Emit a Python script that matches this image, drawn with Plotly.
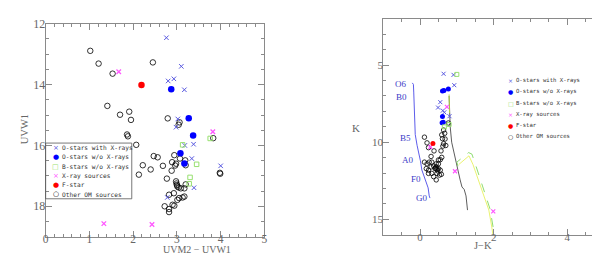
import plotly.graph_objects as go

# ---------------- Left panel data (UVM2-UVW1 vs UVW1) ----------------
om_x = [1.02, 1.21, 1.53, 2.45, 1.41, 1.70, 1.91, 1.95, 2.79, 3.06, 3.04, 1.86, 1.88, 2.07,
        2.47, 2.56, 2.22, 2.13, 2.40, 2.68, 2.88, 2.77, 2.94, 2.89, 2.98, 2.96, 3.07, 3.19,
        3.20, 2.98, 3.00, 3.01, 3.04, 2.99, 3.09, 3.17, 3.20, 2.93, 2.82, 3.01, 3.05, 3.13,
        3.17, 2.90, 2.94, 2.72, 2.82, 2.82, 3.83, 3.98, 3.99]
om_y = [12.89, 13.31, 13.64, 13.27, 14.70, 14.99, 14.89, 15.16, 15.11, 15.24, 15.32, 15.64,
        15.70, 15.98, 16.35, 16.39, 16.65, 16.96, 16.79, 16.67, 16.83, 17.09, 16.32, 16.55,
        16.60, 16.66, 16.43, 16.49, 16.65, 17.18, 17.30, 17.35, 17.38, 17.25, 17.41, 17.41,
        17.28, 17.57, 17.62, 17.79, 17.73, 17.71, 17.68, 17.95, 17.98, 18.00, 18.09, 18.19,
        15.76, 16.90, 16.93]

ox_x = [2.76, 3.10, 2.80, 2.93, 3.17, 3.02, 2.98, 3.18, 3.38, 3.34, 4.00, 3.39, 2.78]
ox_y = [12.46, 13.40, 13.88, 13.81, 14.17, 15.13, 15.40, 16.00, 15.96, 16.43, 16.67, 17.39, 17.71]

onx_x = [2.87, 3.27, 3.37, 3.08, 3.17]
onx_y = [14.15, 15.11, 15.67, 16.26, 16.59]

b_x = [3.13, 3.76, 3.45, 3.30, 3.28]
b_y = [15.98, 15.77, 16.62, 17.05, 17.26]

xr_x = [1.67, 3.82, 1.33, 2.43]
xr_y = [13.58, 15.55, 18.57, 18.60]

f_x = [2.19]
f_y = [14.01]

# ---------------- Right panel data (J-K vs K) ----------------
r_om_x = [0.12, 0.19, 0.23, 0.77, 0.64, 0.67, 0.59, 0.61, 0.68, 0.64, 0.70, 0.62, 0.57, 0.38,
          0.59, 0.55, 0.50, 0.30, 0.19, 0.12, 0.25, 0.30, 0.37, 0.44, 0.41, 0.50, 0.48, 0.55,
          0.46, 0.53, 0.32, 0.23, 0.37, 0.44, 0.58, 0.44, 0.50, 0.32, 0.17, 0.23, 0.46, 0.42]
r_om_y = [9.67, 10.04, 10.35, 8.75, 9.21, 9.42, 9.52, 9.77, 9.79, 10.10, 10.21, 10.25, 10.56,
          10.56, 10.98, 11.13, 11.15, 10.92, 11.40, 11.29, 11.29, 11.60, 11.54, 11.60, 11.71,
          11.71, 11.85, 11.81, 12.02, 12.13, 12.02, 11.81, 12.23, 12.44, 12.08, 11.40, 11.40,
          11.29, 11.71, 12.02, 11.75, 11.68]

r_ox_x = [0.64, 0.91, 0.93, 0.55, 0.49, 0.66, 0.80, 0.62]
r_ox_y = [5.56, 5.63, 6.30, 7.40, 7.75, 8.06, 8.31, 7.95]

r_onx_x = [0.65, 0.77, 0.61, 0.61, 0.60, 0.63]
r_onx_y = [6.65, 6.54, 6.67, 8.33, 8.73, 8.70]

r_b_x = [1.00, 0.66, 0.79]
r_b_y = [5.60, 9.00, 8.85]

r_xr_x = [0.73, 0.95, 1.99, 0.28]
r_xr_y = [7.71, 11.88, 14.48, 10.31]

r_f_x = [0.35]
r_f_y = [10.08]

zams_x = [-0.21, -0.18, -0.17, -0.15, -0.13, -0.08, -0.04, 0.01, 0.05, 0.14, 0.22, 0.25, 0.27]
zams_y = [6.15, 6.25, 6.8, 8.06, 9.5, 10.2, 10.6, 11.2, 11.8, 12.44, 12.96, 13.48, 13.62]

pms_x = [0.79, 0.80, 0.82, 0.86, 0.91, 1.00, 1.09, 1.14, 1.20, 1.25, 1.29]
pms_y = [7.0, 7.9, 9.0, 10.0, 10.56, 11.4, 12.44, 12.9, 13.06, 13.48, 14.4]

pmsg_x = [0.79, 0.80]
pmsg_y = [6.9, 8.1]

red_x = [1.03, 1.00, 1.32, 1.41, 1.50, 1.72, 1.90, 1.99, 2.02]
red_y = [11.55, 11.29, 10.67, 10.77, 11.40, 13.06, 14.31, 15.56, 16.0]

redy_x = [1.05, 1.33, 1.44, 1.70, 1.87, 1.95, 1.98]
redy_y = [11.45, 10.88, 11.45, 13.15, 14.40, 15.50, 16.0]

spt_labels = ["O6", "B0", "B5", "A0", "F0", "G0"]
spt_x = [-0.30, -0.30, -0.19, -0.10, 0.08, 0.26]
spt_y = [6.25, 7.06, 9.73, 11.12, 12.39, 13.64]

legend_labels = ["O-stars with X-rays", "O-stars w/o X-rays", "B-stars w/o X-rays",
                 "X-ray sources", "F-star", "Other OM sources"]

# ---------------- styles ----------------
C_OX = "#5858e0"
C_ONX = "#0000ff"
C_B = "#98e070"
C_XR = "#ff55ff"
C_F = "#ff0000"
C_OM = "#000000"
AXC = "#8a8a8a"
TXT = "#666666"
SERIF = "Liberation Serif"
MONO = "DejaVu Sans Mono"

fig = go.Figure()

def pts(x, y, sym, color, size, xa, ya, lw=1):
    fig.add_trace(go.Scatter(x=x, y=y, mode="markers", xaxis=xa, yaxis=ya, showlegend=False,
                             marker=dict(symbol=sym, color=color, size=size,
                                         line=dict(color=color, width=lw))))

# left panel
pts(om_x, om_y, "circle-open", C_OM, 5.5, "x", "y", 0.8)
pts(ox_x, ox_y, "x-thin-open", C_OX, 4.5, "x", "y", 1)
pts(onx_x, onx_y, "circle", C_ONX, 6.5, "x", "y", 0)
pts(b_x, b_y, "square-open", C_B, 4.5, "x", "y", 1)
pts(xr_x, xr_y, "x-thin-open", C_XR, 4.5, "x", "y", 1.3)
pts(f_x, f_y, "circle", C_F, 6.5, "x", "y", 0)

# right panel lines
def line(x, y, color, dash="solid", w=1):
    fig.add_trace(go.Scatter(x=x, y=y, mode="lines", xaxis="x2", yaxis="y2", showlegend=False,
                             line=dict(color=color, dash=dash, width=w)))

line(zams_x, zams_y, "#4a4ae8", w=0.9)
line(pms_x, pms_y, "#333333", w=0.8)
line(pmsg_x, pmsg_y, "#b8e040", w=0.9)
line(redy_x, redy_y, "#e8f060", w=0.9)
line(red_x, red_y, "#80d860", dash="dash", w=0.9)

pts(r_om_x, r_om_y, "circle-open", C_OM, 4.5, "x2", "y2", 0.8)
pts(r_ox_x, r_ox_y, "x-thin-open", C_OX, 4, "x2", "y2", 1)
pts(r_onx_x, r_onx_y, "circle", C_ONX, 5, "x2", "y2", 0)
pts(r_b_x, r_b_y, "square-open", C_B, 4, "x2", "y2", 1)
pts(r_xr_x, r_xr_y, "x-thin-open", C_XR, 4, "x2", "y2", 1.2)
pts(r_f_x, r_f_y, "circle", C_F, 5, "x2", "y2", 0)

annotations = []
for lab, sx, sy in zip(spt_labels, spt_x, spt_y):
    annotations.append(dict(x=sx, y=sy, xref="x2", yref="y2", text=lab, showarrow=False,
                            xanchor="right", yanchor="middle",
                            font=dict(family=SERIF, size=9, color="#3c3cc8")))

# axis title annotations
annotations += [
    dict(x=152 / 600, y=1 - 249 / 254, xref="paper", yref="paper", text="UVM2 \u2212 UVW1",
         showarrow=False, font=dict(family=SERIF, size=10, color=TXT)),
    dict(x=6 / 600, y=1 - 117 / 254, xref="paper", yref="paper", text="UVW1", textangle=-90,
         showarrow=False, font=dict(family=SERIF, size=10.5, color=TXT)),
    dict(x=488 / 600, y=1 - 245 / 254, xref="paper", yref="paper", text="J\u2212K",
         showarrow=False, font=dict(family=SERIF, size=10.5, color=TXT)),
    dict(x=348 / 600, y=1 - 116 / 254, xref="paper", yref="paper", text="K",
         showarrow=False, font=dict(family=SERIF, size=11, color=TXT)),
]

# legends (drawn as text)
leg_syms = ["\u00d7", "\u25cf", "\u25a1", "\u00d7", "\u25cf", "\u25cb"]
leg_cols = [C_OX, C_ONX, C_B, C_XR, C_F, C_OM]
left_rows = [136.7, 146.2, 155.8, 165.3, 174.8, 184.3]
right_rows = [67.7, 79.1, 90.6, 102.0, 113.4, 124.9]
for lab, s, c, ly, ry in zip(legend_labels, leg_syms, leg_cols, left_rows, right_rows):
    annotations.append(dict(x=45 / 600, y=1 - ly / 254, xref="paper", yref="paper", text=s,
                            showarrow=False, xanchor="center", yanchor="middle",
                            font=dict(family="DejaVu Sans", size=7, color=c)))
    annotations.append(dict(x=49.5 / 600, y=1 - ly / 254, xref="paper", yref="paper", text=lab,
                            showarrow=False, xanchor="left", yanchor="middle",
                            font=dict(family=MONO, size=6.2, color="#333333")))
    annotations.append(dict(x=505 / 600, y=1 - ry / 254, xref="paper", yref="paper", text=s,
                            showarrow=False, xanchor="center", yanchor="middle",
                            font=dict(family="DejaVu Sans", size=6, color=c)))
    annotations.append(dict(x=508.5 / 600, y=1 - ry / 254, xref="paper", yref="paper", text=lab,
                            showarrow=False, xanchor="left", yanchor="middle",
                            font=dict(family=MONO, size=5.6, color="#333333")))

shapes = [dict(type="rect", xref="paper", yref="paper", x0=35 / 600, x1=122 / 600,
               y0=1 - 189 / 254, y1=1 - 131.7 / 254, line=dict(color="#555555", width=0.8),
               fillcolor="rgba(0,0,0,0)")]

def ax(rng, dtick, minor_dtick, domain, anchor, standoff, fs=12):
    return dict(range=rng, dtick=dtick, domain=domain, anchor=anchor,
                ticks="inside", ticklen=6, tickwidth=1, tickcolor=AXC,
                showline=True, linecolor=AXC, linewidth=1, mirror="ticks",
                showgrid=False, zeroline=False, ticklabelstandoff=standoff,
                tickfont=dict(family=SERIF, size=fs, color=TXT),
                minor=dict(dtick=minor_dtick, ticks="inside", ticklen=3, tickcolor=AXC,
                           showgrid=False))

fig.update_layout(
    width=600, height=254,
    margin=dict(l=0, r=0, t=0, b=0),
    paper_bgcolor="white", plot_bgcolor="white",
    showlegend=False,
    xaxis=ax([0, 5], 1, 0.2, [35 / 600, 256 / 600], "y", -9, 11.5),
    yaxis=ax([19, 12], 2, 0.5, [1 - 228 / 254, 1 - 9 / 254], "x", -3),
    xaxis2=ax([-1, 5], 2, 0.5, [376 / 600, 599 / 600], "y2", -8, 11),
    yaxis2=ax([16, 2], 5, 1, [1 - 226 / 254, 1 - 4 / 254], "x2", -3, 11),
    annotations=annotations,
    shapes=shapes,
)

fig.write_html("out.html")
